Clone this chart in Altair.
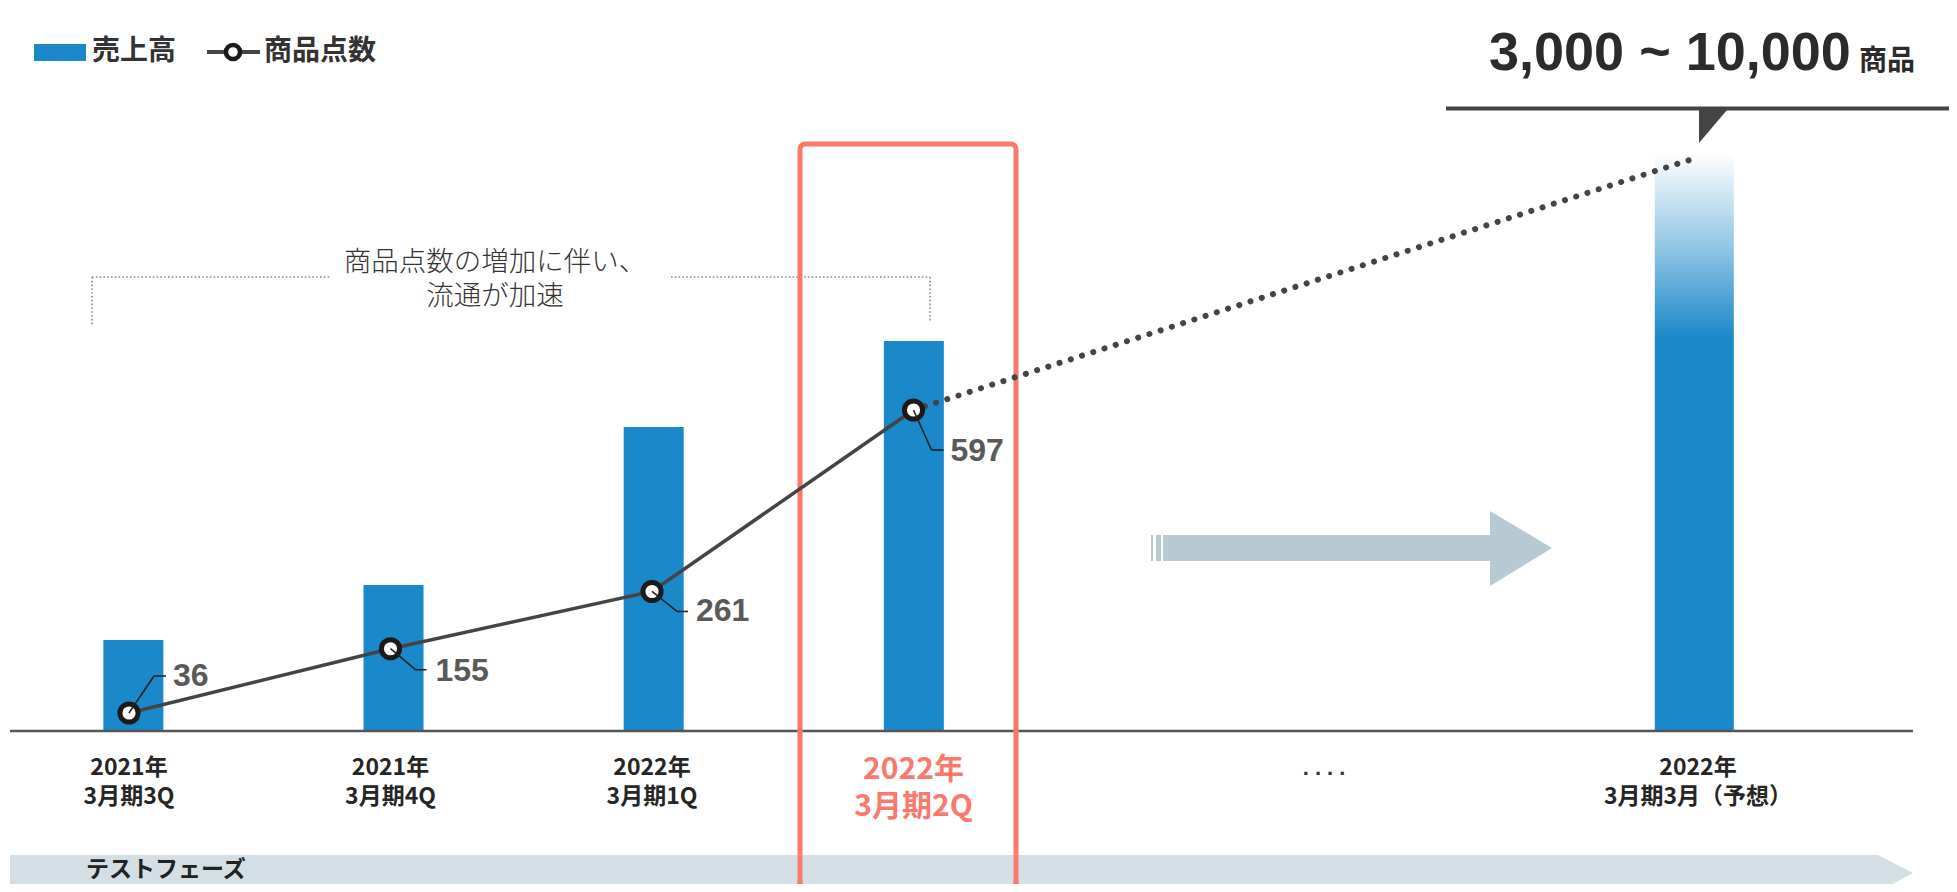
import altair as alt
import pandas as pd

# ---------------- data ----------------
categories = ["2021年\n3月期3Q", "2021年\n3月期4Q", "2022年\n3月期1Q", "2022年\n3月期2Q"]
cat_pos = [0, 1, 2, 3]
forecast_label = "2022年\n3月期3月（予想）"
forecast_pos = [6]
gap_label = ". . . ."
gap_pos = [4.57]

# 売上高 (no axis in the source – relative bar heights)
sales = [91, 146, 304, 390]
sales_forecast = [578]

# 商品点数
item_counts = [36, 155, 261, 597]
projection_pos = [3, 6]
projection_counts = [597, 1065]

# label offsets (pixels) for the value call-outs: diag end, horizontal end, text
label_offsets = [
    (25, -37, 37, 44, -37),
    (25, 21, 36, 45, 22),
    (25, 20, 36, 44, 20),
    (18, 40, 30, 37, 41),
]

W, H = 1941, 876
BLUE = "#1B88CA"
RED = "#F97A6C"
DARK = "#444444"
JP = "Noto Sans CJK JP"
LAT = "Liberation Sans"

xs = alt.Scale(domain=[-0.4627, 6.9598], nice=False, zero=False)
ss = alt.Scale(domain=[-153, 723], nice=False, zero=False)
cs = alt.Scale(domain=[-280.6, 1341.3], nice=False, zero=False)

df_sales = pd.DataFrame({"pos": cat_pos, "sales": sales})
df_fc = pd.DataFrame({"pos": forecast_pos, "sales": sales_forecast})
df_cnt = pd.DataFrame({"pos": cat_pos, "count": item_counts})
df_proj = pd.DataFrame({"pos": projection_pos, "count": projection_counts})
df_cat = pd.DataFrame({"pos": cat_pos, "label": categories})
df_fcl = pd.DataFrame({"pos": forecast_pos, "label": [forecast_label]})
df_gap = pd.DataFrame({"pos": gap_pos, "label": [gap_label]})
one = pd.DataFrame({"k": [0]})

X = lambda: alt.X("pos:Q", scale=xs, axis=None)
layers = []

# ---------------- background shapes ----------------
band = pd.DataFrame({"x": [2, 1870, 1905], "y": [847, 847, 865], "y2": [884, 884, 865]})
layers.append(alt.Chart(band).mark_area(color="#D3DEE5", opacity=1).encode(
    x=alt.X("x:Q", scale=None), y=alt.Y("y:Q", scale=None), y2="y2:Q"))
layers.append(alt.Chart(one).mark_text(align="left", baseline="middle", font=JP, fontSize=23,
                                       fontWeight="bold", color="#222222").encode(
    x=alt.value(78), y=alt.value(862), text=alt.value("テストフェーズ")))

# big arrow
ARW = "#B7CAD4"
for x1, x2 in [(1143, 1145), (1148, 1153), (1155, 1484)]:
    layers.append(alt.Chart(one).mark_rect(color=ARW).encode(
        x=alt.value(x1), x2=alt.value(x2), y=alt.value(527), y2=alt.value(553)))
head = pd.DataFrame({"x": [1482, 1544], "y": [503, 540], "y2": [578, 540]})
layers.append(alt.Chart(head).mark_area(color=ARW, opacity=1).encode(
    x=alt.X("x:Q", scale=None), y=alt.Y("y:Q", scale=None), y2="y2:Q"))

# bracket
for (x1, x2, y1, y2) in [(84, 84, 269, 317), (84, 322, 269, 269), (663, 922, 269, 269), (922, 922, 269, 314)]:
    layers.append(alt.Chart(one).mark_rule(color="#8A8A8A", strokeWidth=1.6, strokeDash=[1.6, 2.2]).encode(
        x=alt.value(x1), x2=alt.value(x2), y=alt.value(y1), y2=alt.value(y2)))
layers.append(alt.Chart(one).mark_text(align="center", baseline="middle", font=JP, fontSize=27.5,
                                       fontWeight=300, color="#333333", lineBreak="\n",
                                       lineHeight=34).encode(
    x=alt.value(487), y=alt.value(255), text=alt.value("商品点数の増加に伴い、\n流通が加速")))

# ---------------- bars ----------------
layers.append(alt.Chart(df_sales).mark_bar(size=60, color=BLUE).encode(
    x=X(), y=alt.Y("sales:Q", scale=ss, axis=None, stack=None)))
grad = alt.LinearGradient(gradient="linear", x1=0, x2=0, y1=0, y2=1, stops=[
    alt.GradientStop(color="#FFFFFF", offset=0),
    alt.GradientStop(color="#8CC3E3", offset=0.17),
    alt.GradientStop(color=BLUE, offset=0.32),
    alt.GradientStop(color=BLUE, offset=1)])
layers.append(alt.Chart(df_fc).mark_bar(size=79, color=grad).encode(
    x=X(), y=alt.Y("sales:Q", scale=ss, axis=None, stack=None)))

# baseline
layers.append(alt.Chart(one).mark_rule(color="#555555", strokeWidth=2.5).encode(
    x=alt.value(2), x2=alt.value(1905), y=alt.value(723)))

# red highlight box
layers.append(alt.Chart(one).mark_rect(fillOpacity=0, stroke=RED, strokeWidth=5, cornerRadius=5).encode(
    x=alt.value(792), x2=alt.value(1008), y=alt.value(136), y2=alt.value(905)))

# ---------------- line ----------------
layers.append(alt.Chart(df_cnt).mark_line(color=DARK, strokeWidth=3.5).encode(
    x=X(), y=alt.Y("count:Q", scale=cs, axis=None)))
layers.append(alt.Chart(df_proj).mark_line(color=DARK, strokeWidth=6, strokeDash=[0.1, 11.7],
                                           strokeCap="round").encode(
    x=X(), y=alt.Y("count:Q", scale=cs, axis=None)))
layers.append(alt.Chart(df_cnt).mark_point(shape="circle", size=330, filled=True, fill="white",
                                           stroke="#1A1A1A", strokeWidth=5, opacity=1).encode(
    x=X(), y=alt.Y("count:Q", scale=cs, axis=None)))

for i, (ddx, ddy, hx, tdx, tdy) in enumerate(label_offsets):
    d = df_cnt.iloc[[i]]
    layers.append(alt.Chart(d).mark_rule(color="#222222", strokeWidth=1.6, x2Offset=ddx, y2Offset=ddy).encode(
        x=X(), y=alt.Y("count:Q", scale=cs, axis=None), x2="pos:Q", y2="count:Q"))
    layers.append(alt.Chart(d).mark_rule(color="#222222", strokeWidth=1.6, xOffset=ddx, yOffset=ddy,
                                         x2Offset=hx, y2Offset=ddy).encode(
        x=X(), y=alt.Y("count:Q", scale=cs, axis=None), x2="pos:Q", y2="count:Q"))
    layers.append(alt.Chart(d).mark_text(align="left", baseline="middle", dx=tdx, dy=tdy, font=LAT,
                                         fontSize=32, fontWeight="bold", color="#595959").encode(
        x=X(), y=alt.Y("count:Q", scale=cs, axis=None), text="count:Q"))

# ---------------- category labels ----------------
df_norm = df_cat[df_cat["pos"] != 3]
df_hi = df_cat[df_cat["pos"] == 3]
layers.append(alt.Chart(df_norm).mark_text(align="center", baseline="middle", font=JP, fontSize=23,
                                          fontWeight="bold", color="#262626", lineBreak="\n",
                                          lineHeight=29).encode(
    x=X(), y=alt.value(760), text="label:N"))
layers.append(alt.Chart(df_fcl).mark_text(align="center", baseline="middle", font=JP, fontSize=23,
                                         fontWeight="bold", color="#262626", lineBreak="\n",
                                         lineHeight=29).encode(
    x=X(), y=alt.value(760), text="label:N"))
layers.append(alt.Chart(df_hi).mark_text(align="center", baseline="middle", font=JP, fontSize=30,
                                        fontWeight="bold", color=RED, lineBreak="\n",
                                        lineHeight=37).encode(
    x=X(), y=alt.value(762), text="label:N"))
layers.append(alt.Chart(df_gap).mark_text(align="center", baseline="alphabetic", font=LAT, fontSize=22,
                                         fontWeight="bold", color="#333333").encode(
    x=X(), y=alt.value(767), text="label:N"))

# ---------------- legend ----------------
layers.append(alt.Chart(one).mark_rect(color=BLUE).encode(
    x=alt.value(26), x2=alt.value(78), y=alt.value(36), y2=alt.value(53)))
layers.append(alt.Chart(one).mark_text(align="left", baseline="middle", font=JP, fontSize=28,
                                       fontWeight="bold", color="#333333").encode(
    x=alt.value(84), y=alt.value(44), text=alt.value("売上高")))
layers.append(alt.Chart(one).mark_rule(color=DARK, strokeWidth=4).encode(
    x=alt.value(199), x2=alt.value(252), y=alt.value(44)))
layers.append(alt.Chart(one).mark_point(shape="circle", size=200, filled=True, fill="white",
                                        stroke="#1A1A1A", strokeWidth=4.5, opacity=1).encode(
    x=alt.value(225), y=alt.value(44)))
layers.append(alt.Chart(one).mark_text(align="left", baseline="middle", font=JP, fontSize=28,
                                       fontWeight="bold", color="#333333").encode(
    x=alt.value(256), y=alt.value(44), text=alt.value("商品点数")))

# ---------------- call-out ----------------
layers.append(alt.Chart(one).mark_text(align="left", baseline="alphabetic", font=LAT, fontSize=54,
                                       fontWeight="bold", color="#2B2B2B").encode(
    x=alt.value(1481), y=alt.value(62), text=alt.value("3,000 ~ 10,000")))
layers.append(alt.Chart(one).mark_text(align="left", baseline="alphabetic", font=JP, fontSize=28,
                                       fontWeight="bold", color="#2B2B2B").encode(
    x=alt.value(1851), y=alt.value(62), text=alt.value("商品")))
layers.append(alt.Chart(one).mark_rule(color=DARK, strokeWidth=4).encode(
    x=alt.value(1438), x2=alt.value(1941), y=alt.value(100.5)))
tri = pd.DataFrame({"x": [1691, 1719], "y": [102, 102], "y2": [135, 102]})
layers.append(alt.Chart(tri).mark_area(color=DARK, opacity=1).encode(
    x=alt.X("x:Q", scale=None), y=alt.Y("y:Q", scale=None), y2="y2:Q"))

chart = alt.layer(*layers).resolve_scale(x="independent", y="independent").properties(
    width=W, height=H, padding=0, autosize=alt.AutoSizeParams(type="none"),
    background="white").configure_view(stroke="transparent")

chart.save("out.html", embed_options={"renderer": "svg", "actions": False})
